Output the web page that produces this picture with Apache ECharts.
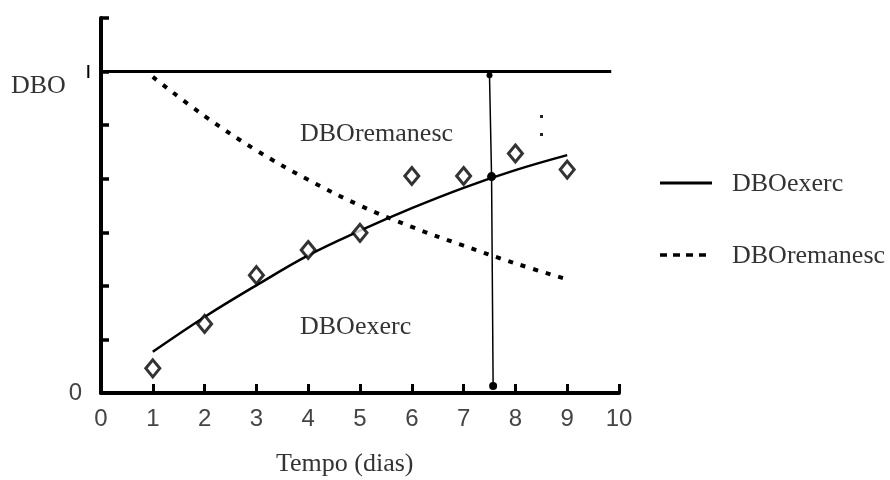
<!DOCTYPE html>
<html>
<head>
<meta charset="utf-8">
<script src="https://cdn.jsdelivr.net/npm/echarts@6/dist/echarts.min.js"></script>
<style>
  html, body { margin: 0; padding: 0; background: #fff; }
  #chart { width: 890px; height: 480px; }
</style>
</head>
<body>
<div id="chart"></div>
<script>
// Time axis (days) and curve samples
const days = [1, 2, 3, 4, 5, 6, 7, 8, 9];
// Fitted exerted BOD curve
const exercCurve = [0.77, 1.42, 2.01, 2.57, 3.03, 3.45, 3.83, 4.16, 4.44];
// Measured exerted BOD (diamonds)
const exercMeasured = [0.46, 1.29, 2.20, 2.67, 2.99, 4.05, 4.05, 4.47, 4.17];
// Remaining BOD curve
const remanescCurve = [5.90, 5.17, 4.53, 3.98, 3.50, 3.10, 2.75, 2.42, 2.12];
// Ultimate BOD level
const ultimateLevel = 6;
const ultimateX = [0, 9.85];
// Reference marker at t ≈ 7.5 d (top, curve crossing, base)
const markerX = [7.50, 7.54, 7.57];
const markerY = [5.93, 4.04, 0.13];
// Tick labels
const xTicks = ['0', '1', '2', '3', '4', '5', '6', '7', '8', '9', '10'];
const yTicks = ['0'];

const serif = "'Liberation Serif', 'Times New Roman', serif";
const sans = "'Liberation Sans', Arial, sans-serif";

const chart = echarts.init(document.getElementById('chart'), null, { renderer: 'canvas' });

const option = {
  animation: false,
  backgroundColor: '#ffffff',
  grid: { left: 101, right: 271, top: 18, bottom: 87 },
  xAxis: {
    type: 'value', min: 0, max: 10, interval: 1,
    axisLine: { show: true, lineStyle: { color: '#000', width: 4 } },
    axisTick: { show: true, inside: true, length: 9, lineStyle: { color: '#000', width: 3 } },
    splitLine: { show: false },
    axisLabel: {
      margin: 14, fontSize: 24, color: '#444', fontFamily: sans,
      formatter: v => xTicks[Math.round(v)] ?? ''
    }
  },
  yAxis: {
    type: 'value', min: 0, max: 7, interval: 1,
    axisLine: { show: true, lineStyle: { color: '#000', width: 4 } },
    axisTick: { show: true, inside: true, length: 8, lineStyle: { color: '#000', width: 3.5 } },
    splitLine: { show: false },
    axisLabel: {
      margin: 19, fontSize: 24, color: '#444', fontFamily: sans,
      formatter: v => yTicks[Math.round(v)] ?? ''
    }
  },
  series: [
    {
      name: 'DBOult', type: 'line', symbol: 'none',
      data: ultimateX.map(x => [x, ultimateLevel]),
      lineStyle: { color: '#000', width: 3 }
    },
    {
      name: 'DBOremanesc', type: 'line', symbol: 'none', smooth: 0.4,
      data: days.map((d, i) => [d, remanescCurve[i]]),
      lineStyle: { color: '#000', width: 4, type: [5, 8], cap: 'butt' }
    },
    {
      name: 'DBOexerc', type: 'line', symbol: 'none', smooth: 0.4,
      data: days.map((d, i) => [d, exercCurve[i]]),
      lineStyle: { color: '#000', width: 2.5 }
    },
    {
      name: 'medido', type: 'scatter', symbol: 'diamond', symbolSize: [14, 17],
      data: days.map((d, i) => [d, exercMeasured[i]]),
      itemStyle: { color: '#fff', borderColor: '#000', borderWidth: 3 },
      z: 5
    },
    {
      name: 'marcador', type: 'line', symbol: 'circle',
      symbolSize: (val, p) => [6, 9, 8][p.dataIndex],
      data: markerX.map((x, i) => [x, markerY[i]]),
      lineStyle: { color: '#000', width: 1.5 },
      itemStyle: { color: '#000' },
      z: 6
    }
  ],
  graphic: [
    // ultimate BOD label, mostly hidden under the mask below
    { type: 'text', left: 318, top: 39, z: 1,
      style: { text: 'DBOult', font: '26px ' + serif, fill: '#b8b8b8' } },
    { type: 'rect', shape: { x: 300, y: 20, width: 120, height: 39 }, z: 2,
      style: { fill: '#fff' } },
    { type: 'line', shape: { x1: 88.3, y1: 65, x2: 88.3, y2: 78 }, z: 3,
      style: { stroke: '#000', lineWidth: 2 } },
    { type: 'rect', shape: { x: 540, y: 115, width: 3, height: 3 }, z: 3, style: { fill: '#222' } },
    { type: 'rect', shape: { x: 540, y: 133, width: 3, height: 3 }, z: 3, style: { fill: '#222' } },

    // axis titles and curve labels
    { type: 'text', left: 11, top: 73, z: 3,
      style: { text: 'DBO', font: '26px ' + serif, fill: '#333' } },
    { type: 'text', left: 276, top: 451, z: 3,
      style: { text: 'Tempo (dias)', font: '26px ' + serif, fill: '#333' } },
    { type: 'text', left: 300, top: 121, z: 3,
      style: { text: 'DBOremanesc', font: '26px ' + serif, fill: '#333' } },
    { type: 'text', left: 300, top: 314, z: 3,
      style: { text: 'DBOexerc', font: '26px ' + serif, fill: '#333' } },

    // legend
    { type: 'line', shape: { x1: 660, y1: 183, x2: 712, y2: 183 }, z: 3,
      style: { stroke: '#000', lineWidth: 3 } },
    { type: 'text', left: 732, top: 171, z: 3,
      style: { text: 'DBOexerc', font: '26px ' + serif, fill: '#333' } },
    { type: 'line', shape: { x1: 660, y1: 255, x2: 712, y2: 255 }, z: 3,
      style: { stroke: '#000', lineWidth: 3.5, lineDash: [7, 6] } },
    { type: 'text', left: 732, top: 243, z: 3,
      style: { text: 'DBOremanesc', font: '26px ' + serif, fill: '#333' } }
  ]
};

chart.setOption(option);
</script>
</body>
</html>
